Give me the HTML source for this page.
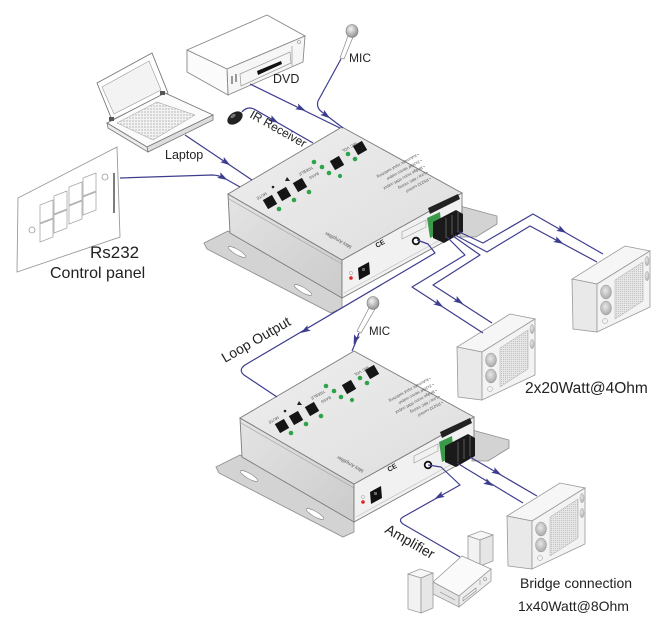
<!DOCTYPE html>
<html><head><meta charset="utf-8"><style>
html,body{margin:0;padding:0;background:#fff;}
svg{display:block;}
text{font-family:"Liberation Sans",Arial,sans-serif;fill:#222;}
.t{fill:#555;font-size:4px;}
</style></head><body>
<svg width="670" height="634" viewBox="0 0 670 634" xmlns="http://www.w3.org/2000/svg">
<defs>
<linearGradient id="gl" x1="0" y1="0" x2="1" y2="1"><stop offset="0" stop-color="#e4e4e4"/><stop offset="1" stop-color="#cbcbcb"/></linearGradient>
<linearGradient id="gt" x1="0" y1="0" x2="1" y2="1"><stop offset="0" stop-color="#eeeeee"/><stop offset="1" stop-color="#dedede"/></linearGradient>
<radialGradient id="gm" cx="0.4" cy="0.35" r="0.7"><stop offset="0" stop-color="#f4f4f4"/><stop offset="1" stop-color="#8a8a8a"/></radialGradient>
<radialGradient id="gw" cx="0.45" cy="0.4" r="0.65"><stop offset="0" stop-color="#e8e8e8"/><stop offset="1" stop-color="#a4a4a4"/></radialGradient>
<pattern id="grille" width="2" height="2" patternUnits="userSpaceOnUse"><rect width="2" height="2" fill="#e6e6e6"/><rect width="1" height="1" fill="#c2c2c2"/></pattern>
<pattern id="kb" width="3" height="3" patternUnits="userSpaceOnUse"><rect width="3" height="3" fill="#f2f2f2"/><rect width="2" height="2" fill="#d6d6d6"/></pattern>
</defs>

<!-- ===== Control panel ===== -->
<polygon points="18,198 117,147 120,237 17,272" fill="#fff" stroke="#9a9a9a" stroke-width="0.9"/>
<g fill="#fff" stroke="#a8a8a8" stroke-width="0.8">
<polygon points="40,205 53,200 53,218 40,223"/><polygon points="40,224 53,219 53,237 40,242"/>
<polygon points="54,196 67,191 67,209 54,214"/><polygon points="54,215 67,210 67,228 54,233"/>
<polygon points="69,187 82,182 82,200 69,205"/><polygon points="69,206 82,201 82,219 69,224"/>
<polygon points="83,178 96,173 96,191 83,196"/><polygon points="83,197 96,192 96,210 83,215"/>
</g>
<circle cx="32" cy="230" r="3" fill="#fff" stroke="#999" stroke-width="0.8"/>
<circle cx="105" cy="177" r="3" fill="#fff" stroke="#999" stroke-width="0.8"/>
<line x1="114" y1="173" x2="114" y2="213" stroke="#444" stroke-width="1.4"/>

<!-- ===== Laptop ===== -->
<polygon points="97,83 152,53 168,93 112,120" fill="#fff" stroke="#777" stroke-width="0.9"/>
<polygon points="102,87 149,61 161,90 114,114" fill="#f3f3f3" stroke="#9a9a9a" stroke-width="0.6"/>
<polygon points="107,123 165,93 213,115 147,147" fill="#fbfbfb" stroke="#777" stroke-width="0.9"/>
<polygon points="147,147 213,115 213,120 148,152" fill="#dedede" stroke="#777" stroke-width="0.8"/>
<polygon points="107,123 147,147 148,152 108,128" fill="#ececec" stroke="#777" stroke-width="0.8"/>
<polygon points="117,123 157,102 195,115 153,140" fill="url(#kb)" stroke="#999" stroke-width="0.5"/>
<rect x="109" y="117" width="5" height="4" fill="#555"/><rect x="160" y="91" width="5" height="4" fill="#555"/>

<!-- ===== DVD ===== -->
<polygon points="187,50 267,15 305,36 227,69" fill="#fff" stroke="#888" stroke-width="0.9"/>
<polygon points="227,69 305,36 303,62 228,95" fill="#f6f6f6" stroke="#888" stroke-width="0.9"/>
<polygon points="187,50 227,69 228,95 187,72" fill="#fbfbfb" stroke="#888" stroke-width="0.9"/>
<polygon points="240,74 290,52 291,63 241,86" fill="none" stroke="#999" stroke-width="0.7"/>
<polygon points="257,71 281,61 282,64 258,75" fill="#111"/>
<line x1="292" y1="46" x2="292" y2="66" stroke="#999" stroke-width="0.7"/>
<circle cx="299" cy="42" r="1.5" fill="none" stroke="#888" stroke-width="0.6"/>
<rect x="231" y="76" width="2" height="8" fill="#999"/><rect x="235" y="74" width="2" height="8" fill="#999"/>

<!-- ===== Top MIC ===== -->
<polygon points="348,36 353,37 344,59 340,58" fill="#fff" stroke="#888" stroke-width="0.7"/>
<ellipse cx="352" cy="31" rx="6" ry="6.5" fill="url(#gm)" stroke="#777" stroke-width="0.6"/>

<!-- ===== IR receiver ===== -->
<ellipse cx="235" cy="118" rx="8.5" ry="5.5" transform="rotate(-35 235 118)" fill="#222"/>
<ellipse cx="233" cy="116" rx="3" ry="1.6" transform="rotate(-35 233 116)" fill="#777"/>

<!-- ===== Amplifier box (top) ===== -->
<g id="boxA">
<polygon points="204,243 228,231 342,296 342,308 331,313 207,249" fill="#d3d3d3" stroke="#8c8c8c" stroke-width="0.8"/>
<polyline points="204,243 207,249 331,313" fill="none" stroke="#9a9a9a" stroke-width="0.8"/>
<ellipse cx="237" cy="252" rx="10" ry="2.6" transform="rotate(30 237 252)" fill="#fff" stroke="#8c8c8c" stroke-width="0.7"/>
<ellipse cx="303" cy="290" rx="10" ry="2.6" transform="rotate(30 303 290)" fill="#fff" stroke="#8c8c8c" stroke-width="0.7"/>
<polygon points="460,206 497,216 497,224 476,237 460,237" fill="#d3d3d3" stroke="#8c8c8c" stroke-width="0.8"/>
<polygon points="228,194 342,260 342,298 230,233" fill="url(#gl)" stroke="#7a7a7a" stroke-width="0.9"/>
<line x1="229" y1="199" x2="342" y2="264" stroke="#a5a5a5" stroke-width="0.7"/>
<polygon points="342,260 462,193 462,232 342,298" fill="#f1f1f1" stroke="#7a7a7a" stroke-width="0.9"/>
<line x1="344" y1="293" x2="460" y2="229" stroke="#c4c4c4" stroke-width="0.7"/>
<polygon points="228,194 342,127 462,193 342,260" fill="url(#gt)" stroke="#7a7a7a" stroke-width="0.9"/>
<!-- buttons -->
<g fill="#151515">
<rect x="264.75" y="196.75" width="10.5" height="10.5" transform="rotate(-30 270 202)"/>
<rect x="278.75" y="188.75" width="10.5" height="10.5" transform="rotate(-30 284 194)"/>
<rect x="294.75" y="179.75" width="10.5" height="10.5" transform="rotate(-30 300 185)"/>
<rect x="331.75" y="157.75" width="10.5" height="10.5" transform="rotate(-30 337 163)"/>
<rect x="354.75" y="142.75" width="10.5" height="10.5" transform="rotate(-30 360 148)"/>
</g>
<g fill="#2ea44a">
<circle cx="279" cy="209" r="2.3"/><circle cx="294" cy="200" r="2.3"/><circle cx="309" cy="192" r="2.3"/>
<circle cx="314" cy="162" r="2.3"/><circle cx="322" cy="167" r="2.3"/><circle cx="329" cy="173" r="2.3"/>
<circle cx="340" cy="176" r="2.1"/><circle cx="348" cy="154" r="2.3"/><circle cx="355" cy="159" r="2.3"/>
</g>
<circle cx="273" cy="187" r="1.3" fill="#222"/>
<polygon points="287,177 290,181 285,181" fill="#222"/>
<!-- terminal -->
<polygon points="428,208 458,194 460,199 430,214" fill="#222"/>
<polygon points="427,218 440,212 442,232 430,238" fill="#3a9a4a"/>
<polygon points="433,222 456,210 463,214 463,232 444,243 433,238" fill="#1a1a1a"/>
<g stroke="#777" stroke-width="0.7"><line x1="446" y1="218" x2="446" y2="238"/><line x1="452" y1="215" x2="452" y2="235"/><line x1="458" y1="212" x2="458" y2="232"/></g>
<circle cx="416" cy="241" r="3.3" fill="#fff" stroke="#111" stroke-width="1.8"/>
<polygon points="402,232 426,220 426,227 402,239" fill="none" stroke="#999" stroke-width="0.6"/>
<polygon points="358,268 369,262 370,274 359,280" fill="#111"/>
<rect x="362" y="268" width="3" height="3" fill="#666"/>
<circle cx="351" cy="278" r="1.8" fill="#d22"/>
<circle cx="351" cy="273" r="1.6" fill="none" stroke="#999" stroke-width="0.5"/>
</g>

<!-- ===== Amplifier box (bottom) ===== -->
<g transform="translate(12,224)">
<polygon points="204,243 228,231 342,296 342,308 331,313 207,249" fill="#d3d3d3" stroke="#8c8c8c" stroke-width="0.8"/>
<polyline points="204,243 207,249 331,313" fill="none" stroke="#9a9a9a" stroke-width="0.8"/>
<ellipse cx="237" cy="252" rx="10" ry="2.6" transform="rotate(30 237 252)" fill="#fff" stroke="#8c8c8c" stroke-width="0.7"/>
<ellipse cx="303" cy="290" rx="10" ry="2.6" transform="rotate(30 303 290)" fill="#fff" stroke="#8c8c8c" stroke-width="0.7"/>
<polygon points="460,206 497,216 497,224 476,237 460,237" fill="#d3d3d3" stroke="#8c8c8c" stroke-width="0.8"/>
<polygon points="228,194 342,260 342,298 230,233" fill="url(#gl)" stroke="#7a7a7a" stroke-width="0.9"/>
<line x1="229" y1="199" x2="342" y2="264" stroke="#a5a5a5" stroke-width="0.7"/>
<polygon points="342,260 462,193 462,232 342,298" fill="#f1f1f1" stroke="#7a7a7a" stroke-width="0.9"/>
<line x1="344" y1="293" x2="460" y2="229" stroke="#c4c4c4" stroke-width="0.7"/>
<polygon points="228,194 342,127 462,193 342,260" fill="url(#gt)" stroke="#7a7a7a" stroke-width="0.9"/>
<g fill="#151515">
<rect x="264.75" y="196.75" width="10.5" height="10.5" transform="rotate(-30 270 202)"/>
<rect x="278.75" y="188.75" width="10.5" height="10.5" transform="rotate(-30 284 194)"/>
<rect x="294.75" y="179.75" width="10.5" height="10.5" transform="rotate(-30 300 185)"/>
<rect x="331.75" y="157.75" width="10.5" height="10.5" transform="rotate(-30 337 163)"/>
<rect x="354.75" y="142.75" width="10.5" height="10.5" transform="rotate(-30 360 148)"/>
</g>
<g fill="#2ea44a">
<circle cx="279" cy="209" r="2.3"/><circle cx="294" cy="200" r="2.3"/><circle cx="309" cy="192" r="2.3"/>
<circle cx="314" cy="162" r="2.3"/><circle cx="322" cy="167" r="2.3"/><circle cx="329" cy="173" r="2.3"/>
<circle cx="340" cy="176" r="2.1"/><circle cx="348" cy="154" r="2.3"/><circle cx="355" cy="159" r="2.3"/>
</g>
<circle cx="273" cy="187" r="1.3" fill="#222"/>
<polygon points="287,177 290,181 285,181" fill="#222"/>
<polygon points="428,208 458,194 460,199 430,214" fill="#222"/>
<polygon points="427,218 440,212 442,232 430,238" fill="#3a9a4a"/>
<polygon points="433,222 456,210 463,214 463,232 444,243 433,238" fill="#1a1a1a"/>
<g stroke="#777" stroke-width="0.7"><line x1="446" y1="218" x2="446" y2="238"/><line x1="452" y1="215" x2="452" y2="235"/><line x1="458" y1="212" x2="458" y2="232"/></g>
<circle cx="416" cy="241" r="3.3" fill="#fff" stroke="#111" stroke-width="1.8"/>
<polygon points="402,232 426,220 426,227 402,239" fill="none" stroke="#999" stroke-width="0.6"/>
<polygon points="358,268 369,262 370,274 359,280" fill="#111"/>
<rect x="362" y="268" width="3" height="3" fill="#666"/>
<circle cx="351" cy="278" r="1.8" fill="#d22"/>
<circle cx="351" cy="273" r="1.6" fill="none" stroke="#999" stroke-width="0.5"/>
</g>

<!-- tiny device labels (top box) -->
<g>
<text class="t" transform="translate(418,153) rotate(151)">• Automatic input switching</text>
<text class="t" transform="translate(421,159) rotate(151)">• 2x20W stereo output</text>
<text class="t" transform="translate(424,165) rotate(151)">• Bridge mono 40W output</text>
<text class="t" transform="translate(427,171) rotate(151)">• Line / MIC mixing</text>
<text class="t" transform="translate(430,177) rotate(151)">• RS232 control</text>
<text class="t" transform="translate(266,192) rotate(151)">MUTE</text>
<text class="t" transform="translate(312,166) rotate(151)">TREBLE</text>
<text class="t" transform="translate(318,172) rotate(151)">BASS</text>
<text class="t" transform="translate(356,142) rotate(151)">MIC VOL</text>
<text class="t" transform="translate(352,246) rotate(209)" style="font-size:5px">Mini Amplifier</text>
<text transform="translate(377,248) rotate(-29)" style="font-size:7px;font-weight:bold">CE</text>
</g>
<!-- tiny device labels (bottom box) -->
<g transform="translate(12,224)">
<text class="t" transform="translate(418,153) rotate(151)">• Automatic input switching</text>
<text class="t" transform="translate(421,159) rotate(151)">• 2x20W stereo output</text>
<text class="t" transform="translate(424,165) rotate(151)">• Bridge mono 40W output</text>
<text class="t" transform="translate(427,171) rotate(151)">• Line / MIC mixing</text>
<text class="t" transform="translate(430,177) rotate(151)">• RS232 control</text>
<text class="t" transform="translate(266,192) rotate(151)">MUTE</text>
<text class="t" transform="translate(312,166) rotate(151)">TREBLE</text>
<text class="t" transform="translate(318,172) rotate(151)">BASS</text>
<text class="t" transform="translate(356,142) rotate(151)">MIC VOL</text>
<text class="t" transform="translate(352,246) rotate(209)" style="font-size:5px">Mini Amplifier</text>
<text transform="translate(377,248) rotate(-29)" style="font-size:7px;font-weight:bold">CE</text>
</g>

<!-- ===== Speakers ===== -->
<g id="spk1" transform="translate(572,279)">
<polygon points="0,0 25,5 78,-28 53,-33" fill="#f6f6f6" stroke="#999" stroke-width="0.8"/>
<polygon points="0,0 25,5 25,53 1,50" fill="#e9e9e9" stroke="#999" stroke-width="0.8"/>
<polygon points="25,5 78,-28 78,28 25,53" fill="#f3f3f3" stroke="#999" stroke-width="0.8"/>
<ellipse cx="34" cy="13" rx="5.5" ry="7" fill="url(#gw)" stroke="#999" stroke-width="0.5"/>
<ellipse cx="34" cy="29" rx="5.5" ry="7" fill="url(#gw)" stroke="#999" stroke-width="0.5"/>
<circle cx="33" cy="42" r="2.5" fill="none" stroke="#999" stroke-width="0.5"/>
<polygon points="43,1 71,-17 71,22 43,40" fill="url(#grille)" stroke="#aaa" stroke-width="0.5"/>
<ellipse cx="75" cy="-18" rx="2.3" ry="5" fill="url(#gw)"/>
<ellipse cx="75" cy="-3" rx="2.3" ry="5" fill="url(#gw)"/>
</g>
<g transform="translate(457,347)">
<polygon points="0,0 25,5 78,-28 53,-33" fill="#f6f6f6" stroke="#999" stroke-width="0.8"/>
<polygon points="0,0 25,5 25,53 1,50" fill="#e9e9e9" stroke="#999" stroke-width="0.8"/>
<polygon points="25,5 78,-28 78,28 25,53" fill="#f3f3f3" stroke="#999" stroke-width="0.8"/>
<ellipse cx="34" cy="13" rx="5.5" ry="7" fill="url(#gw)" stroke="#999" stroke-width="0.5"/>
<ellipse cx="34" cy="29" rx="5.5" ry="7" fill="url(#gw)" stroke="#999" stroke-width="0.5"/>
<circle cx="33" cy="42" r="2.5" fill="none" stroke="#999" stroke-width="0.5"/>
<polygon points="43,1 71,-17 71,22 43,40" fill="url(#grille)" stroke="#aaa" stroke-width="0.5"/>
<ellipse cx="75" cy="-18" rx="2.3" ry="5" fill="url(#gw)"/>
<ellipse cx="75" cy="-3" rx="2.3" ry="5" fill="url(#gw)"/>
</g>
<g transform="translate(507,516)">
<polygon points="0,0 25,5 78,-28 53,-33" fill="#f6f6f6" stroke="#999" stroke-width="0.8"/>
<polygon points="0,0 25,5 25,53 1,50" fill="#e9e9e9" stroke="#999" stroke-width="0.8"/>
<polygon points="25,5 78,-28 78,28 25,53" fill="#f3f3f3" stroke="#999" stroke-width="0.8"/>
<ellipse cx="34" cy="13" rx="5.5" ry="7" fill="url(#gw)" stroke="#999" stroke-width="0.5"/>
<ellipse cx="34" cy="29" rx="5.5" ry="7" fill="url(#gw)" stroke="#999" stroke-width="0.5"/>
<circle cx="33" cy="42" r="2.5" fill="none" stroke="#999" stroke-width="0.5"/>
<polygon points="43,1 71,-17 71,22 43,40" fill="url(#grille)" stroke="#aaa" stroke-width="0.5"/>
<ellipse cx="75" cy="-18" rx="2.3" ry="5" fill="url(#gw)"/>
<ellipse cx="75" cy="-3" rx="2.3" ry="5" fill="url(#gw)"/>
</g>

<!-- ===== Hi-fi amplifier set ===== -->
<g stroke="#999" stroke-width="0.8">
<polygon points="468,536 481,531 493,535 480,540" fill="#f7f7f7"/>
<polygon points="468,536 480,540 480,566 468,562" fill="#f2f2f2"/>
<polygon points="480,540 493,535 493,561 480,566" fill="#e6e6e6"/>
<polygon points="433,582 462,556 491,569 459,596" fill="#fafafa"/>
<polygon points="459,596 491,569 491,581 459,607" fill="#eeeeee"/>
<polygon points="433,582 459,596 459,607 433,594" fill="#e4e4e4"/>
<polygon points="408,574 420,569 433,573 421,578" fill="#f7f7f7"/>
<polygon points="408,574 421,578 421,613 408,609" fill="#f2f2f2"/>
<polygon points="421,578 433,573 433,608 421,613" fill="#e6e6e6"/>
</g>
<g stroke="#888" stroke-width="0.6" fill="none">
<polygon points="463,598 476,588 476,591 463,601"/>
<line x1="480" y1="585" x2="480" y2="580"/><circle cx="485" cy="579" r="1.5"/>
<line x1="440" y1="592" x2="455" y2="600"/>
</g>

<!-- ===== Bottom MIC ===== -->
<polygon points="369,308 375,309 361,333 357,331" fill="#fff" stroke="#888" stroke-width="0.7"/>
<ellipse cx="373" cy="303" rx="6" ry="6.5" fill="url(#gm)" stroke="#777" stroke-width="0.6"/>

<!-- ===== Cables ===== -->
<g fill="none" stroke="#3d3d8f" stroke-width="1.2" stroke-linejoin="round">
<path d="M250,84 L340,128"/>
<path d="M341,59 L318,101 Q316,108 322,112 L343,128"/>
<path d="M242,112 Q247,106 254,109 L313,143"/>
<path d="M185,135 L252,180"/>
<path d="M120,178 L212,175 Q218,175 224,178 L240,187"/>
<path d="M417,240 L428,244 L435,253 L245,365 Q238,370 244,375 L277,397"/>
<path d="M447,237 L465,255 L412,287 L483,333"/>
<path d="M453,236 L480,255 L433,285 L492,323"/>
<path d="M457,231 L483,243 L533,214 L603,254"/>
<path d="M455,235 L487,252 L530,226 L597,262"/>
<path d="M359,333 L355,344 L352,351"/>
<path d="M470,457 L537,496"/>
<path d="M457,463 L523,503"/>
<path d="M428,465 L441,467 L460,485 L403,517 Q398,520 403,524 L460,557"/>
</g>
<!-- arrowheads -->
<g fill="#3d3d8f">
<polygon points="4,0 -6,-3.2 -4,0 -6,3.2" transform="translate(302,109) rotate(26)"/>
<polygon points="4,0 -6,-3.2 -4,0 -6,3.2" transform="translate(327,116) rotate(37)"/>
<polygon points="4,0 -6,-3.2 -4,0 -6,3.2" transform="translate(275,121) rotate(30)"/>
<polygon points="4,0 -6,-3.2 -4,0 -6,3.2" transform="translate(227,163) rotate(34)"/>
<polygon points="4,0 -6,-3.2 -4,0 -6,3.2" transform="translate(224,178) rotate(29)"/>
<polygon points="4,0 -6,-3.2 -4,0 -6,3.2" transform="translate(304,331) rotate(149)"/>
<polygon points="4,0 -6,-3.2 -4,0 -6,3.2" transform="translate(440,305) rotate(33)"/>
<polygon points="4,0 -6,-3.2 -4,0 -6,3.2" transform="translate(460,302) rotate(33)"/>
<polygon points="4,0 -6,-3.2 -4,0 -6,3.2" transform="translate(563,231) rotate(30)"/>
<polygon points="4,0 -6,-3.2 -4,0 -6,3.2" transform="translate(560,242) rotate(28)"/>
<polygon points="4,0 -6,-3.2 -4,0 -6,3.2" transform="translate(355,341) rotate(110)"/>
<polygon points="4,0 -6,-3.2 -4,0 -6,3.2" transform="translate(498,473) rotate(30)"/>
<polygon points="4,0 -6,-3.2 -4,0 -6,3.2" transform="translate(490,484) rotate(30)"/>
<polygon points="4,0 -6,-3.2 -4,0 -6,3.2" transform="translate(438,497) rotate(151)"/>
</g>

<!-- ===== Labels ===== -->
<text x="273" y="83" style="font-size:12.5px">DVD</text>
<text x="349" y="62" style="font-size:12px">MIC</text>
<text transform="translate(249,117) rotate(29.5)" style="font-size:12px">IR Receiver</text>
<text x="165" y="159" style="font-size:12.5px">Laptop</text>
<text x="90" y="258" style="font-size:17px">Rs232</text>
<text x="50" y="278" style="font-size:16px">Control panel</text>
<text transform="translate(225,363) rotate(-30)" style="font-size:14px">Loop Output</text>
<text x="369" y="335" style="font-size:11.5px">MIC</text>
<text x="525" y="393" style="font-size:15.5px">2x20Watt@4Ohm</text>
<text transform="translate(384,532) rotate(30)" style="font-size:14px">Amplifier</text>
<text x="520" y="588" style="font-size:14px">Bridge connection</text>
<text x="518" y="611" style="font-size:14px">1x40Watt@8Ohm</text>
</svg>
</body></html>
